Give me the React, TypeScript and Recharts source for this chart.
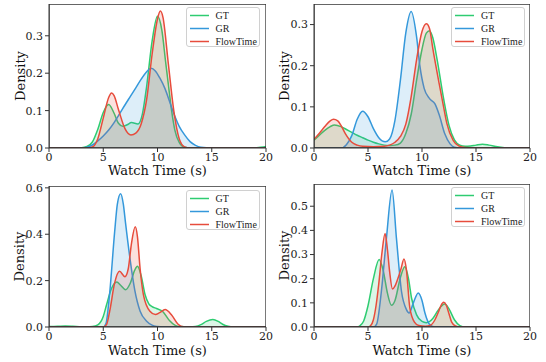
import { AreaChart, Area, XAxis, YAxis, ReferenceArea, Legend } from "recharts";

// density curves, as [watch time, density] points
const P1_GT = [[0, 0], [3, 0.001], [3.5, 0.004], [4, 0.016], [4.5, 0.05], [5, 0.095], [5.5, 0.116], [6, 0.093], [6.4, 0.066], [6.8, 0.058], [7.2, 0.062], [7.6, 0.068], [8.2, 0.064], [8.6, 0.09], [9, 0.165], [9.5, 0.285], [10, 0.352], [10.4, 0.315], [10.75, 0.23], [11, 0.17], [11.3, 0.1], [11.6, 0.048], [12, 0.015], [12.5, 0.002], [13, 0], [19, 0], [19.5, 0.002], [20, 0.004]];
const P1_GR = [[0, 0], [3, 0], [3.5, 0.002], [4, 0.008], [4.5, 0.019], [5, 0.032], [5.5, 0.048], [6, 0.068], [6.5, 0.091], [7, 0.115], [7.5, 0.138], [8, 0.161], [8.5, 0.184], [9, 0.204], [9.4, 0.213], [9.8, 0.206], [10.2, 0.188], [10.7, 0.158], [11.2, 0.117], [11.6, 0.085], [12, 0.058], [12.5, 0.035], [13, 0.017], [13.5, 0.007], [14, 0.002], [15, 0], [20, 0]];
const P1_FT = [[0, 0], [3.5, 0], [4, 0.003], [4.5, 0.025], [5, 0.08], [5.5, 0.135], [5.76, 0.147], [6, 0.14], [6.4, 0.103], [7, 0.052], [7.55, 0.035], [8, 0.04], [8.5, 0.065], [9, 0.13], [9.5, 0.25], [10, 0.345], [10.26, 0.366], [10.5, 0.35], [11, 0.225], [11.5, 0.1], [12, 0.025], [12.5, 0.003], [13, 0], [20, 0]];

const P2_GT = [[0, 0.019], [0.5, 0.031], [1, 0.043], [1.5, 0.052], [1.9, 0.056], [2.5, 0.052], [3, 0.045], [3.5, 0.038], [4, 0.031], [4.5, 0.025], [5, 0.019], [5.5, 0.014], [6, 0.01], [6.5, 0.007], [7, 0.006], [7.5, 0.007], [8, 0.012], [8.5, 0.035], [9, 0.082], [9.5, 0.165], [10, 0.24], [10.4, 0.279], [10.7, 0.285], [11, 0.268], [11.4, 0.215], [12, 0.12], [12.5, 0.055], [13, 0.02], [13.5, 0.007], [14, 0.004], [14.5, 0.005], [15, 0.007], [15.6, 0.009], [16.2, 0.007], [17, 0.003], [18, 0], [20, 0]];
const P2_GR = [[0, 0], [2.5, 0], [3, 0.008], [3.5, 0.03], [4, 0.07], [4.5, 0.0895], [5, 0.076], [5.5, 0.047], [6, 0.025], [6.6, 0.015], [7, 0.022], [7.5, 0.068], [8, 0.165], [8.5, 0.28], [9, 0.332], [9.5, 0.27], [9.8, 0.2], [10.2, 0.145], [10.7, 0.12], [11.2, 0.107], [11.6, 0.08], [12.1, 0.035], [12.6, 0.01], [13, 0.002], [13.5, 0], [20, 0]];
const P2_FT = [[0, 0.021], [0.5, 0.036], [1, 0.052], [1.5, 0.066], [1.8, 0.07], [2.2, 0.066], [2.5, 0.055], [2.9, 0.035], [3.5, 0.014], [4, 0.007], [4.5, 0.004], [5.5, 0.003], [6.5, 0.004], [7, 0.007], [7.5, 0.014], [8, 0.028], [8.5, 0.058], [9, 0.125], [9.5, 0.215], [10, 0.283], [10.4, 0.302], [10.7, 0.29], [11, 0.242], [11.6, 0.155], [12, 0.1], [12.3, 0.06], [12.9, 0.018], [13.4, 0.005], [14, 0.001], [15, 0], [20, 0]];

const P3_GT = [[0, 0.002], [0.8, 0.003], [1.5, 0.004], [2.2, 0.003], [3, 0.001], [3.5, 0.001], [4, 0.002], [4.5, 0.009], [5, 0.045], [5.3, 0.095], [5.75, 0.165], [6.25, 0.194], [6.6, 0.18], [7.05, 0.161], [7.5, 0.19], [7.9, 0.245], [8.15, 0.262], [8.5, 0.22], [8.85, 0.14], [9.2, 0.1], [9.5, 0.088], [9.9, 0.08], [10.5, 0.066], [11.1, 0.028], [11.6, 0.008], [12, 0.002], [13, 0], [13.5, 0.002], [14, 0.01], [14.5, 0.024], [15.1, 0.032], [15.6, 0.024], [16, 0.012], [16.5, 0.003], [17, 0], [20, 0]];
const P3_GR = [[0, 0], [5, 0], [5.25, 0.015], [5.6, 0.15], [6.05, 0.41], [6.3, 0.53], [6.6, 0.575], [6.85, 0.53], [7.05, 0.45], [7.45, 0.3], [7.9, 0.16], [8.4, 0.068], [9, 0.025], [9.5, 0.008], [10, 0.002], [10.5, 0], [20, 0]];
const P3_FT = [[0, 0], [5, 0], [5.3, 0.01], [5.6, 0.07], [6.05, 0.19], [6.5, 0.24], [7, 0.217], [7.3, 0.25], [7.6, 0.36], [7.95, 0.432], [8.15, 0.39], [8.4, 0.25], [8.7, 0.14], [9.3, 0.068], [9.8, 0.054], [10.2, 0.062], [10.7, 0.075], [11.3, 0.052], [11.9, 0.012], [12.4, 0.001], [13, 0], [20, 0]];

const P4_GT = [[0, 0], [4, 0], [4.25, 0.005], [4.6, 0.025], [5, 0.088], [5.5, 0.2], [6.03, 0.279], [6.4, 0.235], [6.8, 0.14], [7.17, 0.09], [7.5, 0.11], [8, 0.205], [8.41, 0.249], [8.75, 0.2], [9.03, 0.12], [9.5, 0.05], [10, 0.023], [10.4, 0.018], [11, 0.035], [11.5, 0.07], [12.1, 0.095], [12.5, 0.075], [13, 0.03], [13.5, 0.006], [14, 0], [20, 0]];
const P4_GR = [[0, 0], [5.5, 0], [5.8, 0.012], [6.24, 0.148], [6.71, 0.369], [7.23, 0.567], [7.63, 0.369], [8.1, 0.148], [8.56, 0.072], [8.8, 0.058], [9.2, 0.1], [9.65, 0.141], [10, 0.11], [10.26, 0.06], [10.72, 0.01], [11.2, 0], [20, 0]];
const P4_FT = [[0, 0], [5, 0], [5.25, 0.006], [5.5, 0.03], [5.75, 0.09], [6, 0.18], [6.3, 0.31], [6.58, 0.387], [6.8, 0.32], [7.0, 0.23], [7.27, 0.157], [7.5, 0.17], [7.8, 0.205], [8.05, 0.24], [8.33, 0.282], [8.55, 0.24], [8.87, 0.08], [9.3, 0.02], [9.7, 0.006], [10.3, 0.003], [10.8, 0.008], [11.2, 0.03], [11.5, 0.06], [11.75, 0.088], [12, 0.102], [12.25, 0.09], [12.5, 0.055], [12.75, 0.02], [13.1, 0.004], [13.5, 0], [20, 0]];

const X_TICKS = [0, 5, 10, 15, 20];
const Y_TICKS_A = [0, 0.1, 0.2, 0.3];
const Y_TICKS_B = [0, 0.2, 0.4, 0.6];
const Y_TICKS_C = [0, 0.1, 0.2, 0.3, 0.4, 0.5];

const SERIES = [
  { key: "gt", name: "GT", color: "#2ecc71" },
  { key: "gr", name: "GR", color: "#3498db" },
  { key: "ft", name: "FlowTime", color: "#e74c3c" },
];

const AXIS_FONT = "'DejaVu Serif', serif";

function buildRows(gt, gr, ft) {
  const xs = Array.from(new Set([...gt, ...gr, ...ft].map((p) => p[0]))).sort((a, b) => a - b);
  const g = new Map(gt.map(([x, y]) => [x, y]));
  const r = new Map(gr.map(([x, y]) => [x, y]));
  const f = new Map(ft.map(([x, y]) => [x, y]));
  return xs.map((x) => ({
    x,
    gt: g.has(x) ? g.get(x) : null,
    gr: r.has(x) ? r.get(x) : null,
    ft: f.has(x) ? f.get(x) : null,
  }));
}

function LegendBox() {
  return (
    <div
      style={{
        width: 74,
        height: 40,
        border: "1px solid #d0d0d0",
        borderRadius: 3,
        background: "rgba(255,255,255,0.8)",
        fontFamily: "'Liberation Serif', serif",
        fontSize: 10,
        color: "#222",
        boxSizing: "border-box",
        paddingTop: 1,
      }}
    >
      {SERIES.map((s) => (
        <div key={s.key} style={{ display: "flex", alignItems: "center", height: 13, lineHeight: "13px" }}>
          <svg width={28} height={13} style={{ flex: "none" }}>
            <line x1={3} x2={22} y1={6.5} y2={6.5} stroke={s.color} strokeWidth={1.5} />
          </svg>
          <span style={{ marginLeft: 1 }}>{s.name}</span>
        </div>
      ))}
    </div>
  );
}

const PANELS = [
  { id: 1, left: 0, top: 0, yWidth: 49, rightPad: 7, topPad: 4, xHeight: 33, yMax: 0.385, yTicks: Y_TICKS_A, labelX: 20, labelOff: 6, legend: [185.5, 7], rows: buildRows(P1_GT, P1_GR, P1_FT) },
  { id: 2, left: 273, top: 0, yWidth: 41, rightPad: 16, topPad: 4, xHeight: 33, yMax: 0.35, yTicks: Y_TICKS_A, labelX: 11.7, labelOff: 6, legend: [178, 7], rows: buildRows(P2_GT, P2_GR, P2_FT) },
  { id: 3, left: 0, top: 181, yWidth: 49, rightPad: 7, topPad: 5, xHeight: 35, yMax: 0.608, yTicks: Y_TICKS_B, labelX: 19.5, labelOff: 7, legend: [185.5, 9], rows: buildRows(P3_GT, P3_GR, P3_FT) },
  { id: 4, left: 273, top: 181, yWidth: 41, rightPad: 16, topPad: 3, xHeight: 35, yMax: 0.592, yTicks: Y_TICKS_C, labelX: 11.7, labelOff: 7, legend: [178, 6], rows: buildRows(P4_GT, P4_GR, P4_FT) },
];

function Panel({ p }) {
  const tick = { fontFamily: AXIS_FONT, fontSize: 11, fill: "#222" };
  return (
    <div style={{ position: "absolute", left: p.left, top: p.top }}>
      <AreaChart
        width={273}
        height={181}
        data={p.rows}
        margin={{ top: p.topPad, right: p.rightPad, left: 0, bottom: 0 }}
      >
        <XAxis
          dataKey="x"
          type="number"
          domain={[0, 20]}
          ticks={X_TICKS}
          allowDataOverflow
          height={p.xHeight}
          tick={tick}
          tickSize={4}
          tickMargin={1}
          stroke="#333"
          label={{
            value: "Watch Time (s)",
            position: "insideBottom",
            offset: p.labelOff,
            style: { fontFamily: AXIS_FONT, fontSize: 13, fill: "#111" },
          }}
        />
        <YAxis
          type="number"
          domain={[0, p.yMax]}
          ticks={p.yTicks}
          allowDataOverflow
          width={p.yWidth}
          tick={tick}
          tickSize={4}
          tickMargin={2}
          tickFormatter={(v) => v.toFixed(1)}
          stroke="#333"
          label={{
            value: "Density",
            angle: -90,
            position: "insideLeft",
            offset: p.labelX,
            style: { fontFamily: AXIS_FONT, fontSize: 13, fill: "#111", textAnchor: "middle" },
          }}
        />
        {SERIES.map((s) => (
          <Area
            key={s.key}
            dataKey={s.key}
            name={s.name}
            type="monotone"
            connectNulls
            stroke={s.color}
            strokeWidth={1.5}
            fill={s.color}
            fillOpacity={0.17}
            dot={false}
            activeDot={false}
            isAnimationActive={false}
          />
        ))}
        <ReferenceArea
          x1={0}
          x2={20}
          y1={0}
          y2={p.yMax}
          fill="none"
          stroke="#333"
          strokeWidth={1.3}
          ifOverflow="hidden"
        />
        <Legend
          layout="vertical"
          align="center"
          verticalAlign="middle"
          content={() => <LegendBox />}
          wrapperStyle={{ left: p.legend[0], top: p.legend[1], width: 74, height: 40 }}
        />
      </AreaChart>
    </div>
  );
}

export default function App() {
  return (
    <div style={{ position: "absolute", left: 0, top: 0, width: 546, height: 362, background: "#fff" }}>
      {PANELS.map((p) => (
        <Panel key={p.id} p={p} />
      ))}
    </div>
  );
}
